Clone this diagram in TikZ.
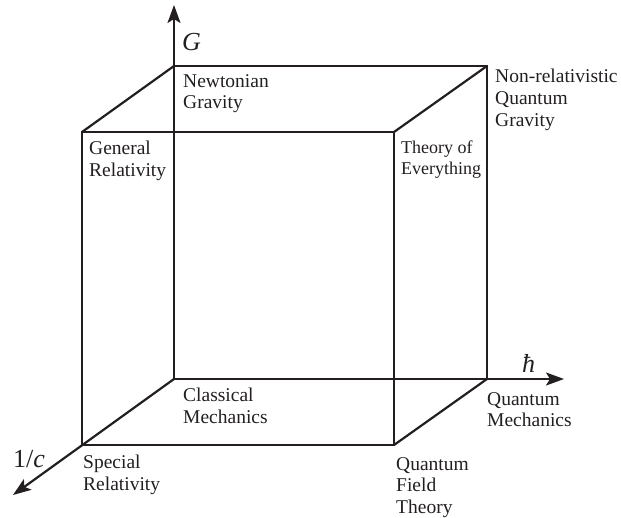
\documentclass[tikz,border=0pt]{standalone}
\usepackage{fontspec}
\setmainfont{Liberation Serif}
\usetikzlibrary{arrows.meta}
\definecolor{ink}{HTML}{231F20}
\begin{document}
\begin{tikzpicture}[x=1pt,y=-1pt,
  edge/.style={draw=ink,line width=2.2pt},
  axis/.style={draw=ink,line width=2.2pt,-{Stealth[length=18pt,width=13pt,inset=4pt]}},
  lbl/.style={anchor=north west,inner sep=0pt,align=left,text=ink,font=\fontsize{19.5}{21.7}\selectfont},
  axlbl/.style={anchor=base west,inner sep=0pt,text=ink,font=\fontsize{26}{30}\selectfont}]
\useasboundingbox (0,0) rectangle (621,517);
% back square
\coordinate (O) at (174,379);
\coordinate (BG) at (174,66);
\coordinate (BGH) at (487,66);
\coordinate (BH) at (487,379);
% front square
\coordinate (FC) at (82,445);
\coordinate (FGC) at (82,132);
\coordinate (FALL) at (394,132);
\coordinate (FHC) at (394,445);
% axis tips
\coordinate (Gtip) at (174,5);
\coordinate (Htip) at (564,379);
\coordinate (Ctip) at (13,495);
% axes
\draw[axis] (O) -- (Gtip);
\draw[axis] (O) -- (Htip);
\draw[axis] (O) -- (Ctip);
% cube edges
\draw[edge] (BG) -- (BGH) -- (BH);
\draw[edge] (FC) -- (FGC) -- (FALL) -- (FHC) -- cycle;
\draw[edge] (BG) -- (FGC);
\draw[edge] (BGH) -- (FALL);
\draw[edge] (BH) -- (FHC);
% axis labels
\node[axlbl] (Glbl) at (182,50) {\itshape G};
\node[axlbl] (Hlbl) at (522,372) {\itshape ħ};
\node[axlbl] (Clbl) at (13,467) {1/\itshape c};
% corner labels
\node[lbl] (newton) at (183,74) {Newtonian\\Gravity};
\node[lbl] (gr) at (89,141) {General\\Relativity};
\node[lbl,font=\fontsize{18}{20.5}\selectfont] (toe) at (401,141) {Theory of\\Everything};
\node[lbl] (nrqg) at (495,69) {Non-relativistic\\Quantum\\Gravity};
\node[lbl] (cm) at (183,388) {Classical\\Mechanics};
\node[lbl] (qm) at (487,392) {Quantum\\Mechanics};
\node[lbl] (qft) at (396,457) {Quantum\\Field\\Theory};
\node[lbl] (sr) at (83,455) {Special\\Relativity};
\end{tikzpicture}
\end{document}
